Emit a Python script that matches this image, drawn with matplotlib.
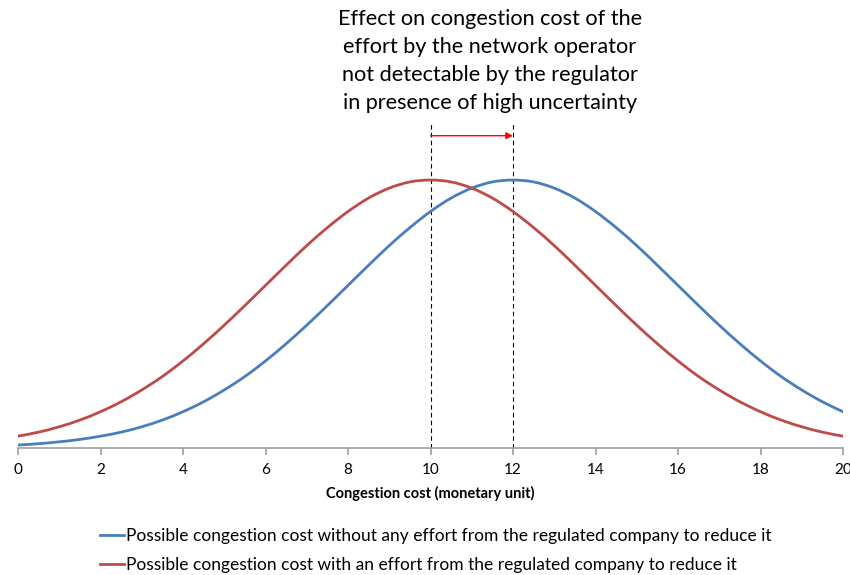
import numpy as np
import matplotlib
matplotlib.use("Agg")
import matplotlib.pyplot as plt
from matplotlib.lines import Line2D
from matplotlib.path import Path
from matplotlib.patches import PathPatch

plt.rcParams['font.family'] = ['Lato', 'DejaVu Sans']

# congestion cost (monetary unit), sampled every 0.5
cost = [i * 0.5 for i in range(41)]

# density without effect (peak at 12)
no_effort = [0.0011, 0.0016, 0.0023, 0.0032, 0.0044, 0.0059, 0.0079, 0.0104,
             0.0135, 0.0172, 0.0216, 0.0266, 0.0324, 0.0388, 0.0457, 0.0530,
             0.0605, 0.0680, 0.0753, 0.0820, 0.0880, 0.0930, 0.0967, 0.0990,
             0.0997, 0.0990, 0.0967, 0.0930, 0.0880, 0.0820, 0.0753, 0.0680,
             0.0605, 0.0530, 0.0457, 0.0388, 0.0324, 0.0266, 0.0216, 0.0172,
             0.0135]

# density with effort (peak at 10)
with_effort = [0.0044, 0.0059, 0.0079, 0.0104, 0.0135, 0.0172, 0.0216, 0.0266,
               0.0324, 0.0388, 0.0457, 0.0530, 0.0605, 0.0680, 0.0753, 0.0820,
               0.0880, 0.0930, 0.0967, 0.0990, 0.0997, 0.0990, 0.0967, 0.0930,
               0.0880, 0.0820, 0.0753, 0.0680, 0.0605, 0.0530, 0.0457, 0.0388,
               0.0324, 0.0266, 0.0216, 0.0172, 0.0135, 0.0104, 0.0079, 0.0059,
               0.0044]

peaks = [10, 12]
xticks = list(range(0, 21, 2))

label_blue = "Possible congestion cost without any effort from the regulated company to reduce it"
label_red = "Possible congestion cost with an effort from the regulated company to reduce it"
title = ("Effect on congestion cost of the\neffort by the network operator\n"
         "not detectable by the regulator\nin presence of high uncertainty")

blue = '#4A7EBB'
red = '#BE4B48'


def smooth_path(x, y):
    # Excel-style smoothed line: Catmull-Rom segments as cubic Beziers
    pts = np.column_stack([x, y])
    verts = [pts[0]]
    codes = [Path.MOVETO]
    n = len(pts)
    for i in range(n - 1):
        p0 = pts[max(i - 1, 0)]
        p1 = pts[i]
        p2 = pts[i + 1]
        p3 = pts[min(i + 2, n - 1)]
        c1 = p1 + (p2 - p0) / 6
        c2 = p2 - (p3 - p1) / 6
        verts += [c1, c2, p2]
        codes += [Path.CURVE4] * 3
    return Path(verts, codes)


fig = plt.figure(figsize=(8.5, 5.75), dpi=100)
ax = fig.add_axes([18 / 850, 1 - 448 / 575, 825 / 850, 326 / 575])

for ys, c in [(no_effort, blue), (with_effort, red)]:
    ax.add_patch(PathPatch(smooth_path(cost, ys), fill=False, edgecolor=c,
                           lw=2.0, capstyle='round', joinstyle='round', zorder=3))

ymax = 0.1213
for p in peaks:
    ax.plot([p, p], [0, ymax], color='black', lw=0.8, ls=(0, (4, 3)), zorder=2)

ax.annotate('', xy=(peaks[1], 0.1162), xytext=(peaks[0], 0.1162),
            arrowprops=dict(arrowstyle='-|>', color='red', lw=1.0,
                            mutation_scale=10, shrinkA=0, shrinkB=0))

ax.set_xlim(0, 20)
ax.set_ylim(0, ymax)
for s in ['top', 'right', 'left']:
    ax.spines[s].set_visible(False)
ax.spines['bottom'].set_color('#A0A0A0')
ax.spines['bottom'].set_linewidth(1.2)
ax.set_yticks([])
ax.set_xticks(xticks)
ax.tick_params(axis='x', direction='out', length=5, color='#A0A0A0', width=1.2,
               labelsize=11, pad=6)
ax.set_xlabel('Congestion cost (monetary unit)', fontsize=10.5, fontweight='bold',
              labelpad=6)

fig.text(490 / 850, 1 - 9 / 575, title, ha='center', va='top', fontsize=15.6,
         linespacing=1.5)

handles = [Line2D([], [], color=blue, lw=2.0), Line2D([], [], color=red, lw=2.0)]
fig.legend(handles, [label_blue, label_red], loc='upper left',
           bbox_to_anchor=(100 / 850, 1 - 528 / 575), frameon=False,
           fontsize=12.5, handlelength=1.4, handletextpad=0.1,
           labelspacing=0.75, borderaxespad=0, borderpad=0)

fig.savefig('out.png', dpi=100)
